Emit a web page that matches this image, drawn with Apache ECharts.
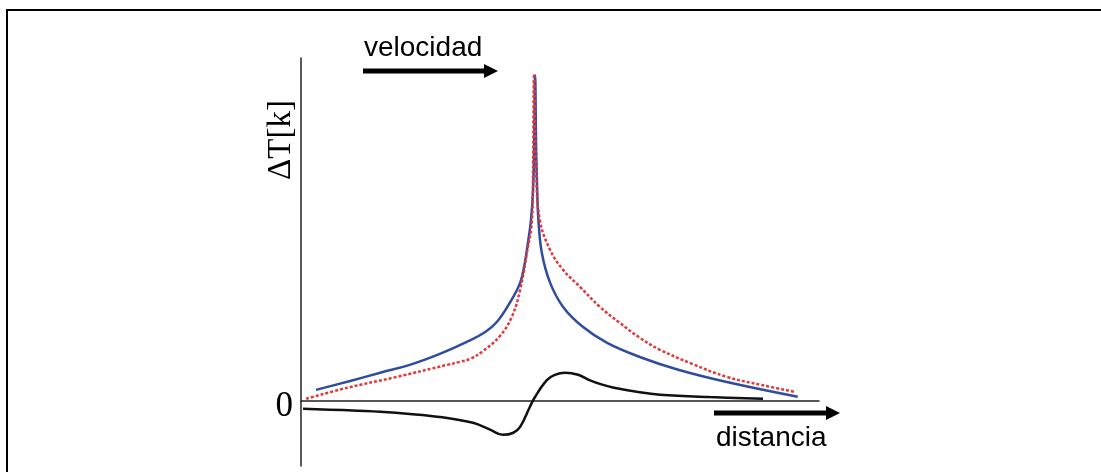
<!DOCTYPE html>
<html>
<head>
<meta charset="utf-8">
<script src="https://cdn.jsdelivr.net/npm/echarts@6/dist/echarts.min.js"></script>
<style>
  html, body { margin: 0; padding: 0; background: #fff; }
  #chart { width: 1101px; height: 472px; }
</style>
</head>
<body>
<div id="chart"></div>
<script>
// --- data (x: distance, y: ΔT) ---
const blueX = [2.9, 9.5, 15.3, 21.0, 26.8, 32.0, 35.5, 37.8, 40.3, 42.3, 43.2, 43.8, 44.4, 44.8, 45.0, 45.2, 45.4, 45.6, 45.8, 46.5, 48.1, 50.6, 54.4, 59.1, 65.4, 73.0, 82.2, 95.9];
const blueY = [3.2, 5.8, 8.2, 10.5, 13.7, 17.2, 20.0, 23.0, 28.6, 34.4, 40.2, 46.0, 52.8, 61.5, 73.2, 95.0, 73.2, 61.5, 53.5, 43.1, 34.4, 27.4, 21.6, 16.9, 12.8, 9.0, 5.5, 1.2];

const redX = [1.0, 8.9, 18.5, 28.2, 30.7, 32.6, 35.1, 38.4, 40.7, 42.3, 43.6, 44.6, 44.8, 45.0, 45.4, 46.1, 48.1, 50.6, 53.9, 57.7, 61.6, 65.4, 69.3, 75.5, 82.2, 89.0, 95.4];
const redY = [0.6, 3.8, 7.0, 10.5, 11.4, 12.2, 14.5, 18.9, 24.5, 32.4, 43.1, 52.8, 67.3, 95.3, 67.3, 52.8, 44.0, 38.2, 33.2, 27.4, 22.7, 18.4, 14.9, 10.8, 7.0, 4.6, 2.6];

const blackX = [0.4, 8.0, 15.3, 21.0, 26.8, 33.2, 36.5, 39.0, 41.0, 42.3, 44.2, 45.2, 47.5, 49.0, 51.0, 53.5, 55.8, 58.0, 60.2, 65.4, 69.3, 78.9, 89.2];
const blackY = [-2.3, -2.7, -3.2, -3.8, -4.7, -6.4, -8.4, -9.9, -9.3, -7.6, -1.7, 1.2, 6.1, 7.6, 8.2, 7.6, 6.0, 4.8, 3.9, 2.5, 1.8, 1.1, 0.6];

const yTicks = [0];

const zip = (xs, ys) => xs.map((x, i) => [x, ys[i]]);

const chart = echarts.init(document.getElementById('chart'));

// arrow = thick bar + triangle head
function arrow(x1, x2, y) {
    return [
        { type: 'rect', shape: { x: x1, y: y - 2.5, width: x2 - x1 - 12, height: 5 }, style: { fill: '#000' } },
        { type: 'polygon', shape: { points: [[x2 - 14, y - 7], [x2, y], [x2 - 14, y + 7]] }, style: { fill: '#000' } }
    ];
}

chart.setOption({
    animation: false,
    grid: { left: 301, top: 58, width: 518, height: 408 },
    xAxis: {
        type: 'value', min: 0, max: 100,
        axisLine: { onZero: true, lineStyle: { color: '#222', width: 1.5 } },
        axisTick: { show: false }, axisLabel: { show: false }, splitLine: { show: false }
    },
    yAxis: {
        type: 'value', min: -19, max: 100,
        axisLine: { show: true, lineStyle: { color: '#222', width: 1.5 } },
        axisTick: { show: false }, splitLine: { show: false },
        axisLabel: {
            customValues: yTicks, margin: 8, formatter: '{z|{value}}',
            rich: { z: { padding: [12, 0, 0, 0], fontFamily: 'Liberation Serif', fontSize: 35, color: '#000' } }
        }
    },
    series: [
        {
            type: 'line', data: zip(blueX, blueY), showSymbol: false, smooth: 0.4,
            lineStyle: { color: '#2f4c9f', width: 2.5 }
        },
        {
            type: 'line', data: zip(redX, redY), showSymbol: false, smooth: 0.4,
            lineStyle: { color: '#e0393b', width: 2.5, type: [3, 2] }
        },
        {
            type: 'line', data: zip(blackX, blackY), showSymbol: false, smooth: 0.4,
            lineStyle: { color: '#111', width: 2.5 }
        }
    ],
    graphic: [
        // frame (top + left edge)
        { type: 'polyline', shape: { points: [[7, 472], [7, 10], [1101, 10]] }, style: { stroke: '#000', lineWidth: 2, fill: null } },
        ...arrow(363, 498, 71),
        ...arrow(714, 840, 413),
        { type: 'text', x: 364, y: 48, style: { text: 'velocidad', fontFamily: 'Liberation Sans', fontSize: 28, fill: '#000', textVerticalAlign: 'middle' } },
        { type: 'text', x: 716, y: 438, style: { text: 'distancia', fontFamily: 'Liberation Sans', fontSize: 28, fill: '#000', textVerticalAlign: 'middle' } },
        { type: 'text', x: 281, y: 140, rotation: Math.PI / 2,
          style: { text: 'ΔT[k]', fontFamily: 'Liberation Serif', fontSize: 33, fill: '#000', textAlign: 'center', textVerticalAlign: 'middle' } }
    ]
});
</script>
</body>
</html>
